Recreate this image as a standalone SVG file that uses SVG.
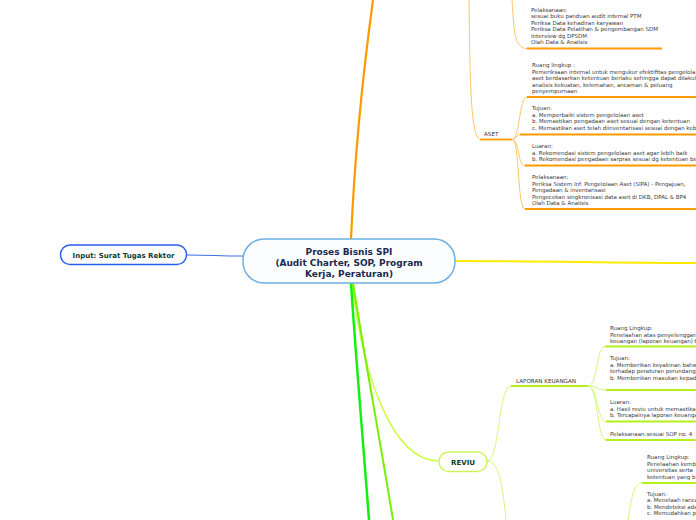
<svg xmlns="http://www.w3.org/2000/svg" width="696" height="520" viewBox="0 0 696 520">
<style>
.t{font-family:"DejaVu Sans",Verdana,sans-serif;font-size:5.5px;fill:#3a3a3a}
.lb{font-family:"DejaVu Sans",Verdana,sans-serif;font-size:5.6px;fill:#333}
.nt{font-family:"DejaVu Sans",Verdana,sans-serif;font-weight:bold;fill:#0d3b2c;text-anchor:middle}
.ct{font-family:"DejaVu Sans",Verdana,sans-serif;font-weight:bold;font-size:9px;fill:#1b2a4e;text-anchor:middle}
.c{fill:none}
.o{stroke:#ff9a00;stroke-width:1.8}
.ot{stroke:#ffc46a;stroke-width:1}
.l{stroke:#b5f01e;stroke-width:1.8}
.lt{stroke:#d4f77a;stroke-width:1}
</style>
<rect width="696" height="520" fill="#ffffff"/>
<g id="connectors" class="c">
  <path d="M187 255 C215 255 215 256 243 256" stroke="#3f6fe6" stroke-width="1.2"/>
  <path d="M351 239 C354 170 362 80 373 0" stroke="#ff9900" stroke-width="2.2"/>
  <path d="M455 261 C560 261 600 263 696 263" stroke="#ffea00" stroke-width="2"/>
  <path d="M352 283 C362 370 390 461 439 461" stroke="#ccff44" stroke-width="1.5"/>
  <path d="M351 283 C356 360 363 440 369 520" stroke="#11f011" stroke-width="2.5"/>
  <path d="M353 283 C365 360 380 440 393 520" stroke="#77f000" stroke-width="2"/>
  <!-- orange sub-branches -->
  <path class="ot" d="M469 0 C470 90 471 139.5 481 139.5"/>
  <path class="ot" d="M512 0 C514 30 514 48.5 527 48.5"/>
  <path class="o" d="M527 48.5 H662"/>
  <path class="o" d="M480 139.5 H512"/>
  <path class="ot" d="M512 139.5 C520 139.5 519 97 527 97"/>
  <path class="ot" d="M512 139.5 C516 139.5 516 134.5 520 134.5"/>
  <path class="ot" d="M512 139.5 C520 139.5 517 165.5 525 165.5"/>
  <path class="ot" d="M512 139.5 C520 139.5 517 209 525 209"/>
  <path class="o" d="M527 97 H696"/>
  <path class="o" d="M520 134.5 H696"/>
  <path class="o" d="M525 165.5 H696"/>
  <path class="o" d="M525 209 H696"/>
  <!-- lime sub-branches -->
  <path class="lt" d="M487 461 C500 461 498 386 511 386"/>
  <path class="l" d="M511 386 H588"/>
  <path class="lt" d="M588 386 C598 386 596 346.5 605 346.5"/>
  <path class="lt" d="M588 386 C597 386 597 390 606 390"/>
  <path class="lt" d="M588 386 C598 386 597 421.5 606 421.5"/>
  <path class="lt" d="M588 386 C598 386 597 440 606 440"/>
  <path class="l" d="M605 346.5 H696"/>
  <path class="l" d="M606 390 H696"/>
  <path class="l" d="M606 421.5 H696"/>
  <path class="l" d="M606 440 H696"/>
  <path class="lt" d="M487 461 C500 461 503 490 506 520"/>
  <path class="lt" d="M628 520 C632 495 634 483 642 483"/>
  <path class="l" d="M642 483 H696"/>
</g>
<g id="node-center">
  <rect x="243" y="239" width="212" height="44" rx="21" fill="#fbfdff" stroke="#6eb0e2" stroke-width="1.5"/>
  <text class="ct" x="349" y="255">Proses Bisnis SPI</text>
  <text class="ct" x="349" y="266">(Audit Charter, SOP, Program</text>
  <text class="ct" x="349" y="277">Kerja, Peraturan)</text>
</g>
<g id="node-input">
  <rect x="60.5" y="245" width="126" height="19.5" rx="9.5" fill="#ffffff" stroke="#2a5cf0" stroke-width="1.4"/>
  <text class="nt" x="123.5" y="257.5" font-size="7">Input: Surat Tugas Rektor</text>
</g>
<g id="node-reviu">
  <rect x="439" y="452" width="48" height="19.5" rx="9.5" fill="#ffffff" stroke="#ccf55a" stroke-width="1.4"/>
  <text class="nt" x="463" y="464.5" font-size="7">REVIU</text>
</g>
<g id="node-sdm-pelaksanaan">
  <text class="t" x="531" y="11.5">Pelaksanaan:</text>
  <text class="t" x="531" y="18">sesuai buku panduan audit internal PTM</text>
  <text class="t" x="531" y="24.5">Periksa Data kehadiran karyawan</text>
  <text class="t" x="531" y="31">Periksa Data Pelatihan &amp; pengembangan SDM</text>
  <text class="t" x="531" y="37.5">Interview dg  DPSDM</text>
  <text class="t" x="531" y="44">Olah Data &amp; Analisis</text>
</g>
<g id="node-aset">
  <text class="lb" x="484" y="135.5">ASET</text>
</g>
<g id="node-aset-ruang">
  <text class="t" x="532" y="67">Ruang lingkup :</text>
  <text class="t" x="532" y="73.5">Pemeriksaan internal untuk mengukur efektifitas pengelola</text>
  <text class="t" x="532" y="80">aset berdasarkan ketentuan berlaku sehingga dapat dilakul</text>
  <text class="t" x="532" y="86.5">analisis kekuatan, kelemahan, ancaman &amp; peluang</text>
  <text class="t" x="532" y="93">penyempurnaan</text>
</g>
<g id="node-aset-tujuan">
  <text class="t" x="532" y="110">Tujuan:</text>
  <text class="t" x="532" y="116.5">a. Memperbaiki sistem pengelolaan aset</text>
  <text class="t" x="532" y="123">b. Memastikan pengadaan aset sesuai dengan ketentuan</text>
  <text class="t" x="532" y="129.5">c. Memastikan aset telah diinventarisasi sesuai dengan keb</text>
</g>
<g id="node-aset-luaran">
  <text class="t" x="532" y="148">Luaran:</text>
  <text class="t" x="532" y="154.5">a. Rekomendasi sistem pengelolaan aset agar lebih baik</text>
  <text class="t" x="532" y="161">b. Rekomendasi pengadaan sarpras sesuai dg ketentuan be</text>
</g>
<g id="node-aset-pelaksanaan">
  <text class="t" x="532" y="179">Pelaksanaan:</text>
  <text class="t" x="532" y="185.5">Periksa Sistem Inf. Pengelolaan Aset (SIPA) - Pengajuan,</text>
  <text class="t" x="532" y="192">Pengadaan &amp; inventarisasi</text>
  <text class="t" x="532" y="198.5">Pengecekan singkronisasi data aset di DKB, DPAL &amp; BP4</text>
  <text class="t" x="532" y="205">Olah Data &amp; Analisis</text>
</g>
<g id="node-laporan">
  <text class="lb" x="516" y="382.5">LAPORAN KEUANGAN</text>
</g>
<g id="node-lap-ruang">
  <text class="t" x="610" y="330">Ruang Lingkup:</text>
  <text class="t" x="610" y="336.5">Penelaahan atas penyelenggara</text>
  <text class="t" x="610" y="343">keuangan (laporan keuangan) t</text>
</g>
<g id="node-lap-tujuan">
  <text class="t" x="610" y="360">Tujuan:</text>
  <text class="t" x="610" y="366.5">a. Memberikan keyakinan bahw</text>
  <text class="t" x="610" y="373">terhadap peraturan perundang-</text>
  <text class="t" x="610" y="379.5">b. Memberikan masukan kepad</text>
</g>
<g id="node-lap-luaran">
  <text class="t" x="610" y="404">Luaran:</text>
  <text class="t" x="610" y="410.5">a. Hasil reviu untuk memastika</text>
  <text class="t" x="610" y="417">b. Tercapainya laporan keuanga</text>
</g>
<g id="node-lap-pelaksanaan">
  <text class="t" x="610" y="436">Pelaksanaan:sesuai SOP  no. 4</text>
</g>
<g id="node-reviu2-ruang">
  <text class="t" x="647" y="459">Ruang Lingkup:</text>
  <text class="t" x="647" y="465.5">Penelaahan kemb</text>
  <text class="t" x="647" y="472">universitas serta</text>
  <text class="t" x="647" y="478.5">ketentuan yang b</text>
</g>
<g id="node-reviu2-tujuan">
  <text class="t" x="647" y="495.5">Tujuan:</text>
  <text class="t" x="647" y="502">a. Menelaah ranca</text>
  <text class="t" x="647" y="508.5">b. Mendeteksi ada</text>
  <text class="t" x="647" y="515">c. Memudahkan p</text>
</g>
</svg>
